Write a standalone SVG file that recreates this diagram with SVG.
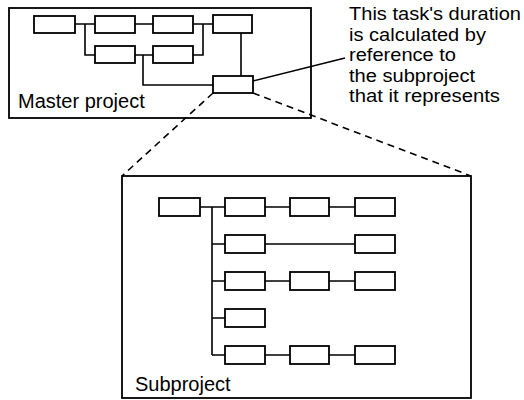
<svg xmlns="http://www.w3.org/2000/svg" width="524" height="400" viewBox="0 0 524 400">
<style>
.frame{fill:none;stroke:#000;stroke-width:1.8}
.task{fill:#fff;stroke:#000;stroke-width:1.8}
.conn{fill:none;stroke:#000;stroke-width:1.6}
.dash{fill:none;stroke:#000;stroke-width:1.6;stroke-dasharray:7 5}
.lbl{font-family:"Liberation Sans",Arial,sans-serif;font-size:20px;fill:#000}
.note{font-family:"Liberation Sans",Arial,sans-serif;font-size:17.5px;fill:#000}
</style>
<rect width="524" height="400" fill="#fff"/>
<g id="master-project">
<rect class="frame" x="9" y="8" width="302" height="110"/>
<text class="lbl" x="18" y="108">Master project</text>
</g>
<g id="subproject">
<rect class="frame" x="122" y="176" width="349" height="222"/>
<text class="lbl" x="135" y="391">Subproject</text>
</g>
<g id="connectors">
<path class="conn" d="M75,24H95M85,24V55H95M135,24H153M193,24H213M135,55H153M193,55H203V24M135,55H143V85H213M241,33V76"/>
<path class="conn" d="M253,81L345,58"/>
<path class="dash" d="M213,93L122,176M253,93L471,176"/>
<path class="conn" d="M200,207H225M212,207V355M212,244H225M212,281H225M212,318H225M212,355H225M265,207H290M329,207H355M265,244H355M265,281H290M329,281H355M265,355H290M329,355H355"/>
</g>
<g id="m1"><rect class="task" x="34" y="16" width="41" height="17"/></g>
<g id="m2"><rect class="task" x="95" y="16" width="40" height="17"/></g>
<g id="m3"><rect class="task" x="153" y="16" width="40" height="17"/></g>
<g id="m4"><rect class="task" x="213" y="15" width="39" height="18"/></g>
<g id="m5"><rect class="task" x="95" y="46" width="40" height="17"/></g>
<g id="m6"><rect class="task" x="153" y="46" width="40" height="17"/></g>
<g id="m7"><rect class="task" x="213" y="76" width="40" height="17"/></g>
<g id="s0"><rect class="task" x="159" y="198" width="41" height="18"/></g>
<g id="s11"><rect class="task" x="225" y="198" width="40" height="18"/></g>
<g id="s12"><rect class="task" x="290" y="198" width="39" height="18"/></g>
<g id="s13"><rect class="task" x="355" y="198" width="40" height="18"/></g>
<g id="s21"><rect class="task" x="225" y="235" width="40" height="18"/></g>
<g id="s23"><rect class="task" x="355" y="235" width="40" height="18"/></g>
<g id="s31"><rect class="task" x="225" y="272" width="40" height="18"/></g>
<g id="s32"><rect class="task" x="290" y="272" width="39" height="18"/></g>
<g id="s33"><rect class="task" x="355" y="272" width="40" height="18"/></g>
<g id="s41"><rect class="task" x="225" y="309" width="40" height="18"/></g>
<g id="s51"><rect class="task" x="225" y="346" width="40" height="18"/></g>
<g id="s52"><rect class="task" x="290" y="346" width="39" height="18"/></g>
<g id="s53"><rect class="task" x="355" y="346" width="40" height="18"/></g>
<g id="note">
<text class="note" x="349" y="20" textLength="172" lengthAdjust="spacingAndGlyphs">This task's duration</text>
<text class="note" x="349" y="40.5" textLength="137" lengthAdjust="spacingAndGlyphs">is calculated by</text>
<text class="note" x="349" y="61" textLength="107" lengthAdjust="spacingAndGlyphs">reference to</text>
<text class="note" x="349" y="81.5" textLength="126" lengthAdjust="spacingAndGlyphs">the subproject</text>
<text class="note" x="349" y="102" textLength="151" lengthAdjust="spacingAndGlyphs">that it represents</text>
</g>
</svg>
